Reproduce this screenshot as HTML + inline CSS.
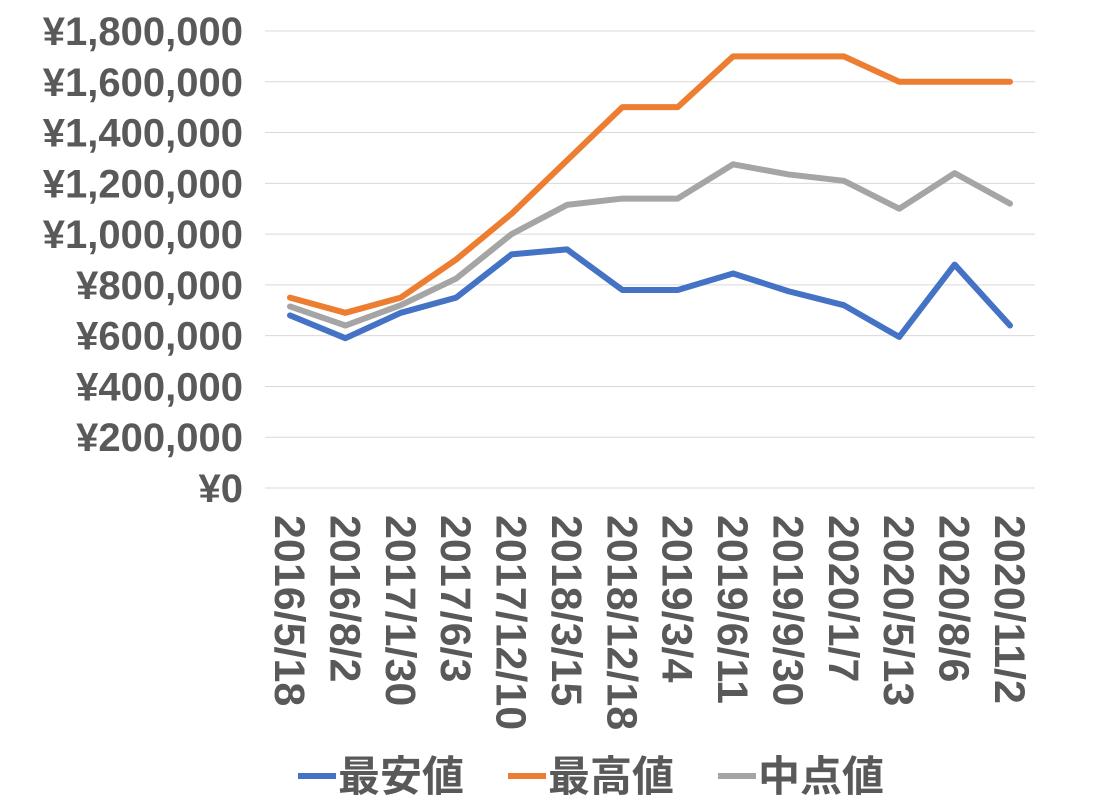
<!DOCTYPE html>
<html><head><meta charset="utf-8"><style>
body{margin:0;background:#fff;}
svg text{font-family:"Liberation Sans","Noto Sans CJK JP",sans-serif;font-weight:bold;fill:#595959;}
</style></head><body>
<svg id="chart" width="1098" height="806" xmlns="http://www.w3.org/2000/svg">
<g id="grid"></g><g id="yl"></g><g id="xl"></g><g id="lines"></g><g id="legend"></g>
</svg>
<script>
const categories=["2016/5/18","2016/8/2","2017/1/30","2017/6/3","2017/12/10","2018/3/15","2018/12/18","2019/3/4","2019/6/11","2019/9/30","2020/1/7","2020/5/13","2020/8/6","2020/11/2"];
const minValues=[680000,590000,690000,750000,920000,940000,780000,780000,845000,775000,720000,595000,880000,640000];
const maxValues=[750000,690000,750000,900000,1080000,1290000,1500000,1500000,1700000,1700000,1700000,1600000,1600000,1600000];
const midValues=[715000,640000,720000,825000,1000000,1115000,1140000,1140000,1275000,1235000,1210000,1100000,1240000,1120000];
const yTicks=[0,200000,400000,600000,800000,1000000,1200000,1400000,1600000,1800000];
const seriesNames=["最安値","最高値","中点値"];
const NS="http://www.w3.org/2000/svg";
const y=v=>488-v/1800000*457;
const x=i=>290+i*(720/13);
function mk(t,a,p){const e=document.createElementNS(NS,t);for(const k in a)e.setAttribute(k,a[k]);p.appendChild(e);return e;}
const G=document.getElementById('grid'),YL=document.getElementById('yl'),XL=document.getElementById('xl'),L=document.getElementById('lines'),LG=document.getElementById('legend');
yTicks.forEach(v=>{
 const l=mk('line',{x1:265,x2:1035,y1:y(v),y2:y(v),stroke:'#d9d9d9','stroke-width':1},G);
 
 
 const t=mk('text',{x:243,y:y(v)+14,'text-anchor':'end','font-size':40},YL);
 t.textContent='¥'+v.toLocaleString('en-US');
 
 
});
categories.forEach((c,i)=>{
 const t=mk('text',{transform:`translate(${x(i)-15},515) rotate(90)`,'font-size':43},XL);
 t.textContent=c;
 
 
});
const series=[[minValues,'#4472C4','min-line'],[maxValues,'#ED7D31','max-line'],[midValues,'#A5A5A5','mid-line']];
[series[2],series[0],series[1]].forEach(s=>{
 const p=mk('polyline',{points:s[0].map((v,i)=>x(i)+','+y(v)).join(' '),fill:'none',stroke:s[1],'stroke-width':6,'stroke-linejoin':'round','stroke-linecap':'round'},L);
 
 
});
const lx=[298,508,718];
series.forEach((s,i)=>{
 const l=mk('line',{x1:lx[i],x2:lx[i]+38,y1:776,y2:776,stroke:s[1],'stroke-width':6},LG);
 
 
 const t=mk('text',{x:lx[i]+40,y:791,'font-size':42},LG);
 t.textContent=seriesNames[i];
 
 
});
</script>
</body></html>
